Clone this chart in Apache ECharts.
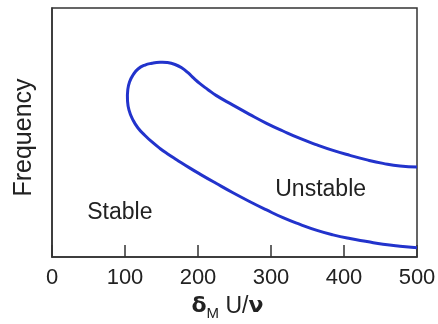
<!DOCTYPE html>
<html style="height: 100%">
<head>
<meta charset="utf-8">
</head>
<body style="height: 100%; margin: 0; background: #fff">
<div id="container" style="width: 438px; height: 324px;"></div>
<script src="https://cdn.jsdelivr.net/npm/echarts@6/dist/echarts.min.js"></script>
<script type="text/javascript">
// neutral stability curve, traced from upper branch end round the nose to lower branch end
var reynolds = [500, 476.7, 453.4, 431.5, 408.2, 384.9, 363, 339.7, 316.4, 293.2, 271.2, 247.9, 224.7, 213.7, 202.7, 194.5, 186.3, 178.1, 168.5, 157.5, 147.9, 137, 127.4, 117.8, 111, 106.2, 103.8, 103.4,
    105.5, 111, 117.8, 127.4, 137, 147.9, 157.5, 171.2, 189, 202.7, 224.7, 247.9, 271.2, 293.2, 316.4, 339.7, 363, 384.9, 408.2, 431.5, 453.4, 476.7, 500];
var freq = [36.1, 36.5, 37.6, 39.0, 40.8, 42.8, 45.0, 47.6, 50.6, 53.8, 57.2, 61.0, 64.9, 67.2, 69.6, 71.7, 74.0, 75.9, 77.3, 78.1, 78.2, 77.8, 77.1, 75.5, 73.1, 70.3, 67.1, 63.1,
    59.0, 55.0, 51.8, 48.8, 46.2, 43.6, 41.6, 39.0, 35.7, 33.3, 29.6, 25.8, 22.2, 19.0, 15.8, 13.1, 10.7, 8.9, 7.4, 6.2, 5.1, 4.3, 3.7];
var xTicks = [0, 100, 200, 300, 400, 500];
var regionLabels = [
    { text: 'Stable', x: 93, y: 18 },
    { text: 'Unstable', x: 368, y: 27 }
];

var curve = reynolds.map(function (r, i) { return [r, freq[i]]; });

var dom = document.getElementById('container');
var myChart = echarts.init(dom);
var font = 'Liberation Sans, Arial, sans-serif';
var ink = '#222';

// the curve folds back on itself, so draw it as one smooth polyline in pixel space
function renderCurve(params, api) {
    if (params.dataIndex !== 0) return null;
    var pts = curve.map(function (p) { return api.coord(p); });
    return {
        type: 'polyline',
        shape: { points: pts, smooth: 0.5 },
        style: { fill: null, stroke: '#2233cc', lineWidth: 3 }
    };
}

var option = {
    animation: false,
    grid: {
        left: 52, right: 21, top: 8, bottom: 67,
        outerBoundsMode: 'none',
        show: true,
        borderColor: '#333',
        borderWidth: 1.5
    },
    xAxis: {
        type: 'value',
        min: xTicks[0],
        max: xTicks[xTicks.length - 1],
        interval: 100,
        axisLine: { lineStyle: { color: '#333', width: 1.5 } },
        axisTick: { inside: true, length: 12, lineStyle: { color: '#333', width: 1.5 } },
        axisLabel: { color: ink, fontFamily: font, fontSize: 22, margin: 10 },
        splitLine: { show: false },
        name: '{d|δ}{s|M}{n| U/}{d|ν}',
        nameLocation: 'middle',
        nameGap: 35,
        nameTextStyle: {
            padding: [0, 14, 0, 0],
            rich: {
                d: { fontFamily: 'DejaVu Sans', fontWeight: 'bold', fontSize: 22, color: ink },
                s: { fontFamily: font, fontSize: 15, color: ink, padding: [14, 0, 0, 0] },
                n: { fontFamily: font, fontSize: 23, color: ink }
            }
        }
    },
    yAxis: {
        type: 'value',
        min: 0,
        max: 100,
        axisLine: { show: true, lineStyle: { color: '#333', width: 1.5 } },
        axisTick: { show: false },
        axisLabel: { show: false },
        splitLine: { show: false },
        name: 'Frequency',
        nameLocation: 'middle',
        nameGap: 15,
        nameTextStyle: { color: ink, fontFamily: font, fontSize: 25, padding: [0, 10, 0, 0] }
    },
    series: [
        {
            type: 'custom',
            data: curve,
            encode: { x: 0, y: 1 },
            renderItem: renderCurve
        },
        {
            type: 'scatter',
            symbolSize: 0,
            silent: true,
            itemStyle: { opacity: 1, color: 'transparent' },
            data: regionLabels.map(function (l) { return { value: [l.x, l.y], name: l.text }; }),
            label: {
                show: true,
                position: 'inside',
                formatter: '{b}',
                color: ink,
                fontFamily: font,
                fontSize: 23
            }
        }
    ]
};

if (option && typeof option === 'object') {
    myChart.setOption(option, true);
}
</script>
</body>
</html>
